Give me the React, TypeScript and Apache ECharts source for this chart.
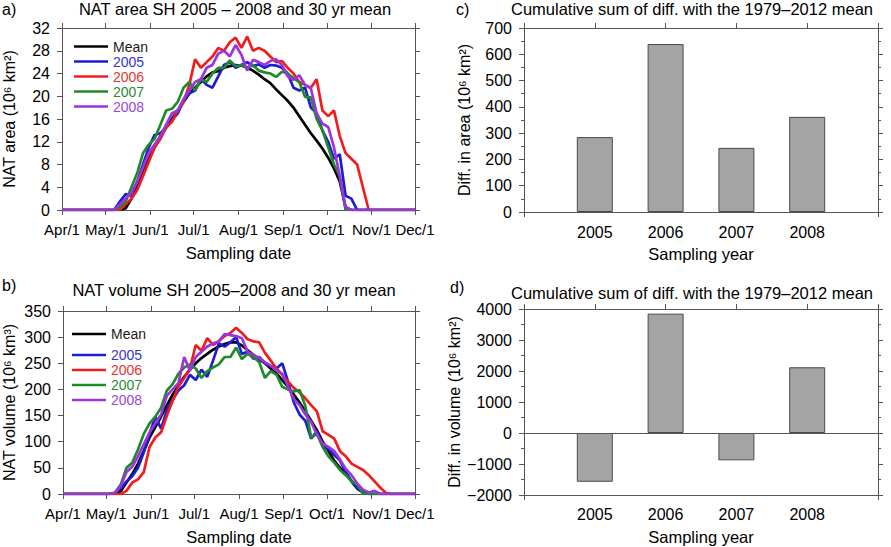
import React, { useEffect, useRef } from "react";
import * as echarts from "echarts";

// ---------- data ----------
const sampleDays = [0,
  32, 36, 40, 44, 48, 52, 56, 60, 64, 68,
  72, 76, 80, 84, 88, 92, 96, 100, 104, 108,
  112, 116, 120, 124, 128, 132, 136, 140, 144, 148,
  152, 156, 160, 164, 168, 172, 176, 180, 184, 188,
  192, 196, 200, 204, 208, 212, 216, 220, 224, 228,
  244];

const areaMean = [0,
  0, 0, 0, 0.3, 2, 4, 6.5, 9, 11, 13,
  14.5, 16, 17.5, 19, 20.5, 21.5, 22.5, 23.5, 24.2, 24.4,
  25, 25.3, 25.5, 25.4, 25, 24.5, 23.8, 23, 22.3, 21.2,
  20.2, 19.2, 18, 16.5, 15, 13.5, 12.2, 10.8, 9.2, 7.3,
  5, 0.5, 0, 0, 0, 0, 0, 0, 0, 0,
  0];
const area2005 = [0,
  0, 0, 1.5, 2.8, 2.5, 5, 8, 11, 13.2, 13.5,
  14.5, 15.8, 17, 19.2, 20.5, 21, 23, 22, 21.5, 23.5,
  25.5, 26, 25, 25.5, 26, 25.3, 25.6, 25, 25.5, 25.4,
  25, 24, 21.5, 21, 21.5, 18, 17, 14, 12, 9,
  9.8, 2.5, 2, 0, 0, 0, 0, 0, 0, 0,
  0];
const area2006 = [0,
  0, 0, 0, 1, 2, 3.5, 6, 8.5, 11, 12.5,
  14.5, 15.5, 17.5, 19, 22, 26.5, 25, 26, 27, 28.5,
  28, 29.5, 30.3, 28.5, 30.5, 28, 28.5, 28, 27, 26,
  26.2, 25, 24, 22.5, 22, 21.5, 23, 17.5, 16.5, 17.5,
  13, 10, 9, 8, 4, 0, 0, 0, 0, 0,
  0];
const area2007 = [0,
  0, 0, 0.5, 1.5, 4, 6.5, 10, 11.5, 12.5, 15,
  17.5, 17.8, 19, 21.5, 22.5, 21, 23, 22.5, 24, 25,
  25, 26.3, 25.3, 25.5, 25, 25.5, 24.5, 24.2, 24, 23.4,
  24.3, 24, 23.2, 22.5, 19.9, 19.8, 16, 14, 11, 8,
  6, 0, 0, 0, 0, 0, 0, 0, 0, 0,
  0];
const area2008 = [0,
  0, 0, 1, 2, 3, 5, 7.5, 10, 11.5, 13,
  15, 17, 17.5, 19.5, 21, 22.5, 23, 25, 25.5, 27.5,
  28, 27, 29, 27.3, 24.5, 26.4, 26, 25.5, 26.2, 26.5,
  25.5, 23.5, 22.9, 23.7, 22, 21.4, 17, 15.2, 14.6, 11,
  5.9, 0.5, 0, 0, 0, 0, 0, 0, 0, 0,
  0];

const volMean = [0,
  0, 0, 5, 22, 38, 58, 82, 108, 128, 148,
  170, 190, 208, 224, 238, 250, 260, 268, 276, 282,
  287, 290, 290, 284, 275, 266, 258, 250, 240, 230,
  218, 205, 190, 175, 158, 140, 122, 100, 82, 64,
  50, 40, 24, 10, 3, 0, 0, 0, 0, 0,
  0];
const vol2005 = [0,
  0, 2, 10, 24, 34, 50, 80, 115, 148, 125,
  160, 180, 198, 208, 228, 218, 238, 224, 255, 288,
  282, 290, 300, 268, 272, 259, 262, 250, 245, 240,
  250, 215, 175, 152, 140, 106, 120, 92, 85, 75,
  64, 42, 25, 12, 3, 0, 0, 0, 0, 0,
  0];
const vol2006 = [0,
  0, 0, 0, 6, 22, 28, 42, 90, 108, 118,
  150, 178, 205, 222, 240, 285, 274, 298, 285, 292,
  302, 308, 318, 308, 296, 292, 290, 270, 255, 240,
  228, 215, 203, 194, 183, 170, 158, 120, 113, 106,
  82, 72, 58, 52, 46, 36, 24, 12, 2, 0,
  0];
const vol2007 = [0,
  0, 3, 18, 50, 60, 85, 115, 135, 148, 165,
  198, 210, 230, 242, 248, 240, 222, 235, 242, 248,
  262, 262, 280, 258, 268, 262, 252, 222, 235, 228,
  205, 200, 196, 199, 168, 108, 115, 90, 72, 60,
  46, 36, 24, 18, 0, 0, 0, 0, 0, 0,
  0];
const vol2008 = [0,
  0, 2, 15, 42, 52, 72, 95, 118, 135, 152,
  188, 200, 212, 262, 236, 262, 272, 282, 288, 292,
  306, 304, 302, 298, 272, 266, 260, 252, 245, 236,
  230, 205, 182, 170, 152, 138, 114, 96, 90, 82,
  66, 48, 36, 20, 8, 3, 6, 0, 0, 0,
  0];

const dayTicks = [0, 30, 61, 91, 122, 153, 183, 214, 244];
const dayTickLabels = ["Apr/1", "May/1", "Jun/1", "Jul/1", "Aug/1", "Sep/1", "Oct/1", "Nov/1", "Dec/1"];

const years = [2005, 2006, 2007, 2008];
const yearAxisEdges = [2004, 2009];
const areaDiff = [285, 639, 244, 362];
const volumeDiff = [-1573, 3850, -882, 2120];

const seriesNames = ["Mean", "2005", "2006", "2007", "2008"];
const seriesColors = ["#000000", "#1c1cd2", "#f21c1c", "#1f8a28", "#9b33de"];
const legendTextColors = ["#1a1a1a", "#3535d0", "#e43434", "#2c8a34", "#9c46dc"];

const FONT = "'Liberation Sans', Arial, Helvetica, sans-serif";
const AXIS_COLOR = "#555";

function frameLine() {
  return { show: true, onZero: false, lineStyle: { color: AXIS_COLOR, width: 1 } };
}

function dayAxis(gridIndex: number, position: "bottom" | "top") {
  const bottom = position === "bottom";
  return {
    type: "value",
    gridIndex,
    position,
    min: 0,
    max: 244,
    axisLine: frameLine(),
    axisTick: { show: true, length: 5, customValues: dayTicks, lineStyle: { color: AXIS_COLOR } },
    axisLabel: bottom
      ? {
          show: true,
          customValues: dayTicks,
          formatter: (v: number) => dayTickLabels[dayTicks.indexOf(v)] ?? "",
          fontSize: 15,
          color: "#000",
          margin: 12,
          fontFamily: FONT,
        }
      : { show: false },
    splitLine: { show: false },
    name: bottom ? "Sampling date" : "",
    nameLocation: "middle",
    nameGap: 34,
    nameTextStyle: { fontSize: 16.5, color: "#000", fontFamily: FONT },
  };
}

function yearAxis(gridIndex: number, position: "bottom" | "top", labelMargin: number) {
  const bottom = position === "bottom";
  return {
    type: "value",
    gridIndex,
    position,
    min: 2004,
    max: 2009,
    axisLine: frameLine(),
    axisTick: {
      show: true,
      length: 5,
      customValues: bottom ? yearAxisEdges : [yearAxisEdges[0], ...years, yearAxisEdges[1]],
      lineStyle: { color: AXIS_COLOR },
    },
    axisLabel: bottom
      ? {
          show: true,
          customValues: years,
          formatter: (v: number) => String(v),
          fontSize: 16,
          color: "#000",
          margin: labelMargin,
          fontFamily: FONT,
        }
      : { show: false },
    splitLine: { show: false },
    name: bottom ? "Sampling year" : "",
    nameLocation: "middle",
    nameGap: 33,
    nameTextStyle: { fontSize: 16.5, color: "#000", fontFamily: FONT },
  };
}

function valueAxis(
  gridIndex: number,
  position: "left" | "right",
  min: number,
  max: number,
  interval: number,
  name: string,
  nameGap: number,
  minor: boolean
) {
  const left = position === "left";
  return {
    type: "value",
    gridIndex,
    position,
    min,
    max,
    interval,
    axisLine: frameLine(),
    axisTick: { show: true, length: 5, lineStyle: { color: AXIS_COLOR } },
    minorTick: { show: minor, splitNumber: 2, length: 3, lineStyle: { color: AXIS_COLOR } },
    axisLabel: left
      ? {
          show: true,
          fontSize: 16,
          color: "#000",
          margin: 12,
          fontFamily: FONT,
          formatter: (v: number) => String(v).replace("-", "\u2212"),
        }
      : { show: false },
    splitLine: { show: false },
    minorSplitLine: { show: false },
    name: left ? name : "",
    nameLocation: "middle",
    nameGap,
    nameRotate: 90,
    nameTextStyle: { fontSize: 16, color: "#000", fontFamily: FONT },
  };
}

function lineSeries(axisIndex: number, values: number[][]) {
  return values.map((vals, i) => ({
    type: "line",
    name: seriesNames[i],
    xAxisIndex: axisIndex,
    yAxisIndex: axisIndex,
    data: sampleDays.map((d, k) => [d, vals[k]]),
    showSymbol: false,
    symbol: "none",
    silent: true,
    z: 2 + i,
    lineStyle: { width: 2.7, color: seriesColors[i] },
    itemStyle: { color: seriesColors[i] },
  }));
}

function legendItems(names: string[]) {
  return names.map((n) => ({ name: n, textStyle: { color: legendTextColors[seriesNames.indexOf(n)] } }));
}

function legend(left: number, top: number, names: string[]) {
  return {
    left,
    top,
    orient: "vertical",
    icon: "rect",
    itemWidth: 34,
    itemHeight: 2.5,
    itemGap: 0,
    selectedMode: false,
    padding: 0,
    data: legendItems(names),
    textStyle: { fontSize: 14, lineHeight: 15, fontFamily: FONT },
  };
}

function txt(text: string, x: number, y: number, align: string, size: number) {
  return {
    type: "text",
    x,
    y,
    silent: true,
    style: {
      text,
      fill: "#000",
      fontSize: size,
      fontFamily: FONT,
      textAlign: align,
      textVerticalAlign: "middle",
    },
  };
}

export default function App() {
  const ref = useRef<HTMLDivElement>(null);

  useEffect(() => {
    document.body.style.margin = "0";
    const chart = echarts.init(ref.current!, null, { renderer: "svg" });
    const option = {
      animation: false,
      backgroundColor: "#ffffff",
      textStyle: { fontFamily: FONT },
      grid: [
        { left: 62, top: 28, width: 353, height: 182 },
        { left: 62, top: 311, width: 353, height: 183 },
        { left: 524, top: 28, width: 354, height: 184 },
        { left: 524, top: 309, width: 354, height: 186 },
      ],
      xAxis: [
        dayAxis(0, "bottom"),
        dayAxis(0, "top"),
        dayAxis(1, "bottom"),
        dayAxis(1, "top"),
        yearAxis(2, "bottom", 12),
        yearAxis(2, "top", 12),
        yearAxis(3, "bottom", 11),
        yearAxis(3, "top", 11),
      ],
      yAxis: [
        valueAxis(0, "left", 0, 32, 4, "NAT area (10\u2076 km\u00b2)", 45, false),
        valueAxis(0, "right", 0, 32, 4, "", 0, false),
        valueAxis(1, "left", 0, 350, 50, "NAT volume (10\u2076 km\u00b3)", 46, false),
        valueAxis(1, "right", 0, 350, 50, "", 0, false),
        valueAxis(2, "left", 0, 700, 100, "Diff. in area (10\u2076 km\u00b2)", 52, true),
        valueAxis(2, "right", 0, 700, 100, "", 0, true),
        valueAxis(3, "left", -2000, 4000, 1000, "Diff. in volume (10\u2076 km\u00b2)", 62, true),
        valueAxis(3, "right", -2000, 4000, 1000, "", 0, true),
      ],
      legend: [
        legend(74, 39, seriesNames),
        legend(72, 326.5, ["Mean"]),
        legend(72, 347.5, ["2005", "2006", "2007", "2008"]),
      ],
      graphic: [
        txt("a)", 2, 9, "left", 16),
        txt("NAT area SH 2005 \u2013 2008 and 30 yr mean", 235, 9, "center", 16.5),
        txt("b)", 2, 285, "left", 16),
        txt("NAT volume SH 2005\u20132008 and 30 yr mean", 234, 290, "center", 16.5),
        txt("c)", 456, 9, "left", 16),
        txt("Cumulative sum of diff. with the 1979\u20132012 mean", 692, 9, "center", 16.5),
        txt("d)", 450, 287, "left", 16),
        txt("Cumulative sum of diff. with the 1979\u20132012 mean", 692, 293, "center", 16.5),
      ],
      series: [
        ...lineSeries(0, [areaMean, area2005, area2006, area2007, area2008]),
        ...lineSeries(2, [volMean, vol2005, vol2006, vol2007, vol2008]),
        {
          type: "bar",
          xAxisIndex: 4,
          yAxisIndex: 4,
          barWidth: 36,
          silent: true,
          data: years.map((y, i) => [y, areaDiff[i]]),
          itemStyle: { color: "#a4a4a4", borderColor: "#4a4a4a", borderWidth: 1 },
        },
        {
          type: "bar",
          xAxisIndex: 6,
          yAxisIndex: 6,
          barWidth: 36,
          silent: true,
          data: years.map((y, i) => [y, volumeDiff[i]]),
          itemStyle: { color: "#a4a4a4", borderColor: "#4a4a4a", borderWidth: 1 },
          markLine: {
            silent: true,
            symbol: "none",
            label: { show: false },
            lineStyle: { color: AXIS_COLOR, width: 1, type: "solid" },
            data: [{ yAxis: 0 }],
          },
        },
      ],
    };
    chart.setOption(option as any);
    return () => chart.dispose();
  }, []);

  return (
    <div
      ref={ref}
      style={{ position: "absolute", left: 0, top: 0, width: 891, height: 547, background: "#fff" }}
    />
  );
}
